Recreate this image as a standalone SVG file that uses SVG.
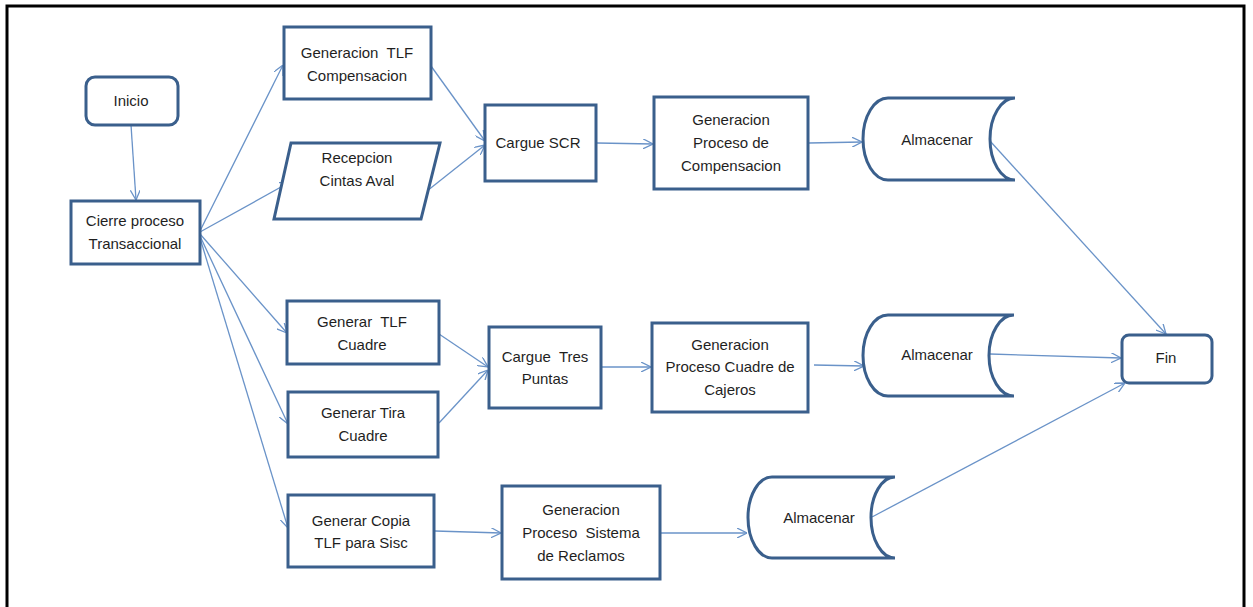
<svg xmlns="http://www.w3.org/2000/svg" width="1253" height="607" viewBox="0 0 1253 607">
<style>
.n{fill:#fff;stroke:#3a5f8c;stroke-width:3}
.t{font-family:"Liberation Sans",Arial,sans-serif;font-size:15px;fill:#1f1f1f;text-anchor:middle}
.c{fill:none;stroke:#6a93c8;stroke-width:1.3;marker-end:url(#a)}
</style>
<defs>
<marker id="a" viewBox="0 0 10 10" refX="10" refY="5" markerWidth="10" markerHeight="10" markerUnits="userSpaceOnUse" orient="auto">
<path d="M0,0 L10,5 L0,10" fill="none" stroke="#6a93c8" stroke-width="1.3"/>
</marker>
</defs>
<rect x="0" y="0" width="1253" height="607" fill="#fff"/>
<path d="M7,607 V6 H1244 V607" fill="none" stroke="#000" stroke-width="3"/>
<g id="connectors">
<line class="c" x1="131" y1="125" x2="136" y2="200"/>
<line class="c" x1="200" y1="231" x2="283" y2="65"/>
<line class="c" x1="200" y1="232" x2="290" y2="182"/>
<line class="c" x1="200" y1="234" x2="287" y2="333"/>
<line class="c" x1="200" y1="236" x2="288" y2="424"/>
<line class="c" x1="200" y1="238" x2="288" y2="528"/>
<line class="c" x1="431" y1="66" x2="485" y2="141"/>
<line class="c" x1="427" y1="191" x2="485" y2="145"/>
<line class="c" x1="597" y1="143" x2="653" y2="144"/>
<line class="c" x1="809" y1="143" x2="862" y2="142"/>
<line class="c" x1="990" y1="141" x2="1166" y2="334"/>
<line class="c" x1="439" y1="334" x2="488" y2="367"/>
<line class="c" x1="439" y1="423" x2="488" y2="370"/>
<line class="c" x1="602" y1="367" x2="651" y2="367"/>
<line class="c" x1="814" y1="365" x2="864" y2="366"/>
<line class="c" x1="990" y1="354" x2="1121" y2="358"/>
<line class="c" x1="435" y1="531" x2="501" y2="533"/>
<line class="c" x1="661" y1="533" x2="747" y2="533"/>
<line class="c" x1="872" y1="517" x2="1125" y2="383"/>
</g>
<g id="inicio"><rect class="n" x="86" y="77" width="92" height="48" rx="9"/><text class="t" x="131" y="106">Inicio</text></g>
<g id="cierre"><rect class="n" x="71" y="201" width="129" height="63"/><text class="t" x="135" y="226">Cierre proceso</text><text class="t" x="135" y="249">Transaccional</text></g>
<g id="gentlfcomp"><rect class="n" x="284" y="27" width="147" height="72"/><text class="t" x="357" y="58" xml:space="preserve">Generacion  TLF</text><text class="t" x="357" y="81">Compensacion</text></g>
<g id="recepcion"><polygon class="n" points="291,143 440,143 421,219 274,219"/><text class="t" x="357" y="163">Recepcion</text><text class="t" x="357" y="186">Cintas Aval</text></g>
<g id="carguescr"><rect class="n" x="485" y="105" width="111" height="76"/><text class="t" x="538" y="148">Cargue SCR</text></g>
<g id="genproccomp"><rect class="n" x="654" y="97" width="154" height="92"/><text class="t" x="731" y="125">Generacion</text><text class="t" x="731" y="148">Proceso de</text><text class="t" x="731" y="171">Compensacion</text></g>
<g id="almacenar1"><path class="n" d="M1015,98 L888,98 A25,41 0 0 0 888,180 L1015,180 A25,41 0 0 1 1015,98 Z"/><text class="t" x="937" y="145">Almacenar</text></g>
<g id="gentlfcuadre"><rect class="n" x="287" y="301" width="152" height="63"/><text class="t" x="362" y="327" xml:space="preserve">Generar  TLF</text><text class="t" x="362" y="350">Cuadre</text></g>
<g id="gentira"><rect class="n" x="288" y="392" width="150" height="65"/><text class="t" x="363" y="418">Generar Tira</text><text class="t" x="363" y="441">Cuadre</text></g>
<g id="gencopia"><rect class="n" x="288" y="495" width="146" height="72"/><text class="t" x="361" y="526">Generar Copia</text><text class="t" x="361" y="548">TLF para Sisc</text></g>
<g id="carguetres"><rect class="n" x="489" y="327" width="112" height="81"/><text class="t" x="545" y="362" xml:space="preserve">Cargue  Tres</text><text class="t" x="545" y="384">Puntas</text></g>
<g id="genproccuadre"><rect class="n" x="652" y="323" width="156" height="89"/><text class="t" x="730" y="350">Generacion</text><text class="t" x="730" y="372">Proceso Cuadre de</text><text class="t" x="730" y="395">Cajeros</text></g>
<g id="almacenar2"><path class="n" d="M1014,315 L888,315 A25,40.5 0 0 0 888,396 L1014,396 A25,40.5 0 0 1 1014,315 Z"/><text class="t" x="937" y="360">Almacenar</text></g>
<g id="fin"><rect class="n" x="1122" y="335" width="90" height="48" rx="7"/><text class="t" x="1166" y="363">Fin</text></g>
<g id="genprocsist"><rect class="n" x="502" y="486" width="158" height="93"/><text class="t" x="581" y="515">Generacion</text><text class="t" x="581" y="538" xml:space="preserve">Proceso  Sistema</text><text class="t" x="581" y="561">de Reclamos</text></g>
<g id="almacenar3"><path class="n" d="M895,477 L772,477 A24,40.5 0 0 0 772,558 L895,558 A24,40.5 0 0 1 895,477 Z"/><text class="t" x="819" y="523">Almacenar</text></g>
</svg>
